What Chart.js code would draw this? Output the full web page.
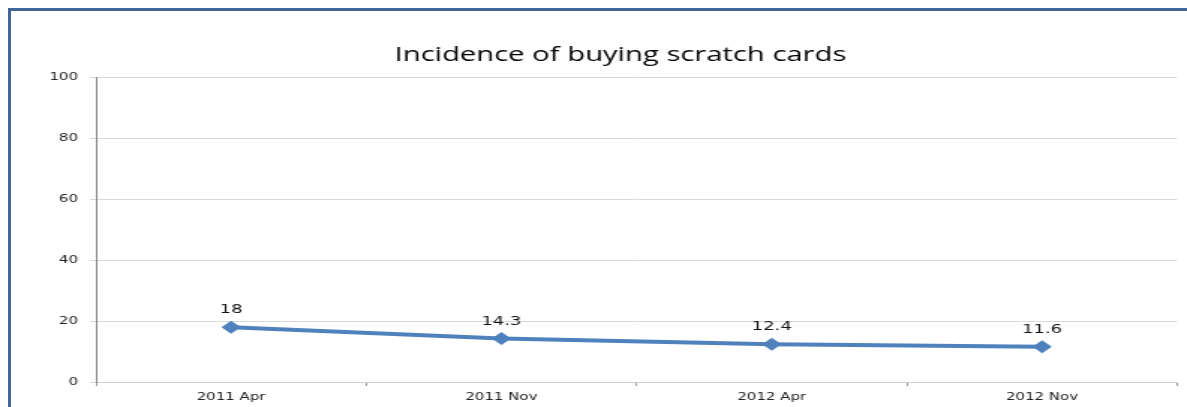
<!DOCTYPE html>
<html>
<head>
<meta charset="utf-8">
<title>Incidence of buying scratch cards</title>
<script src="https://cdn.jsdelivr.net/npm/chart.js@4/dist/chart.umd.min.js"></script>
<style>
  html, body { margin: 0; padding: 0; background: #fff; overflow: hidden; }
  /* the reference is a horizontally stretched picture, so we draw narrow and stretch */
  #wrap {
    position: absolute; left: 0; top: 0;
    width: 792px; height: 407px;
    transform: scaleX(1.4987); transform-origin: 0 0;
  }
  #frame {
    position: absolute; left: 8px; top: 8px; right: -10px; bottom: -10px;
    border-left: 3px solid #3f6797; border-top: 3px solid #3f6797;
    pointer-events: none;
  }
</style>
</head>
<body>
<div id="wrap"><canvas id="scratchChart"></canvas></div>
<div id="frame"></div>

<script>
const categories = ['2011 Apr', '2011 Nov', '2012 Apr', '2012 Nov'];
const incidence  = [18, 14.3, 12.4, 11.6];
const yTicks     = [0, 20, 40, 60, 80, 100];

const chartTitle = 'Incidence of buying scratch cards';
const lineBlue   = '#4f81bd';

// value labels above each point
const valueLabels = {
  id: 'valueLabels',
  afterDatasetsDraw(chart) {
    const ctx = chart.ctx;
    const meta = chart.getDatasetMeta(0);
    ctx.save();
    ctx.font = '12px "DejaVu Sans"';
    ctx.fillStyle = '#111';
    ctx.textAlign = 'center';
    ctx.textBaseline = 'middle';
    meta.data.forEach((pt, i) => {
      ctx.fillText(String(chart.data.datasets[0].data[i]), pt.x, pt.y - 17);
    });
    ctx.restore();
  }
};

// the title in the picture sits a bit right of the canvas centre
const nudgeTitle = {
  id: 'nudgeTitle',
  afterLayout(chart) {
    if (chart.titleBlock) chart.titleBlock.left = 39;
  }
};

document.addEventListener('DOMContentLoaded', () => {
  const canvas = document.getElementById('scratchChart');
  if (!canvas || !window.Chart) {
    console.error('Chart.js not loaded or canvas missing');
    return;
  }

  new Chart(canvas.getContext('2d'), {
    type: 'line',
    data: {
      labels: categories,
      datasets: [{
        label: chartTitle,
        data: incidence,
        borderColor: lineBlue,
        backgroundColor: lineBlue,
        borderWidth: 4,
        pointStyle: 'rectRot',
        pointRadius: 6.5,
        pointHoverRadius: 6.5,
        pointBorderWidth: 0,
        tension: 0
      }]
    },
    options: {
      responsive: true,
      maintainAspectRatio: false,
      animation: false,
      layout: { padding: { left: 32, right: 3, top: 0, bottom: 0 } },
      plugins: {
        legend: { display: false },
        tooltip: { enabled: false },
        title: {
          display: true,
          text: chartTitle,
          color: '#000',
          font: { family: '"Open Sans"', size: 19.5, weight: 'normal' },
          padding: { top: 44, bottom: 10.5 }
        }
      },
      scales: {
        x: {
          offset: true,
          grid: {
            offset: true,
            drawOnChartArea: false,
            drawTicks: true,
            tickLength: 4,
            color: '#9a9a9a'
          },
          border: { display: true, color: '#d0d0d0' },
          ticks: {
            color: '#222',
            font: { family: '"DejaVu Sans"', size: 10 },
            padding: 5,
            maxRotation: 0
          },
          afterFit(scale) { scale.height = 25; }
        },
        y: {
          min: 0,
          max: 100,
          afterBuildTicks(scale) {
            scale.ticks = yTicks.map(v => ({ value: v }));
          },
          grid: {
            color: '#d9d9d9',
            drawTicks: true,
            tickLength: 4
          },
          border: { display: true, color: '#868686' },
          ticks: {
            color: '#222',
            font: { family: '"DejaVu Sans"', size: 10 },
            padding: 8
          },
          afterFit(scale) { scale.width = 32; }
        }
      }
    },
    plugins: [valueLabels, nudgeTitle]
  });
});
</script>
</body>
</html>
